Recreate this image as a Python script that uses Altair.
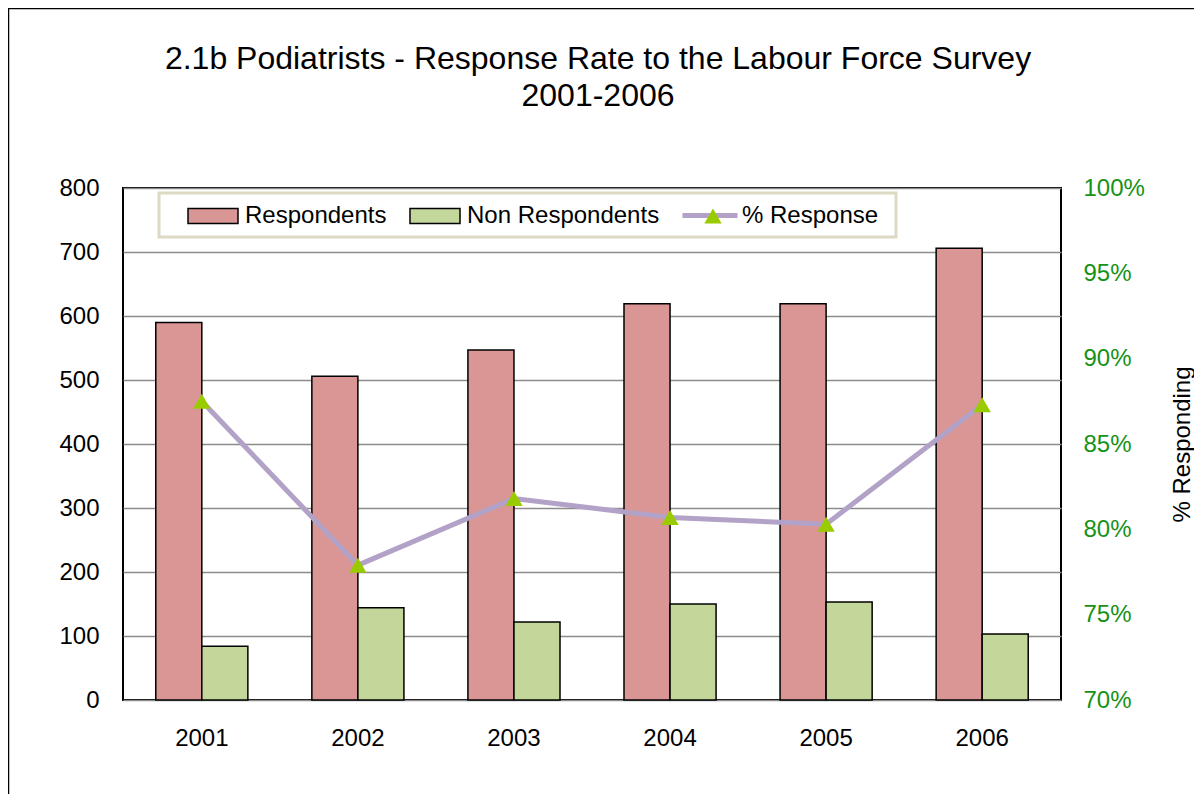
import altair as alt
import pandas as pd

years = ["2001", "2002", "2003", "2004", "2005", "2006"]
respondents = [590, 506, 547, 619, 619, 706]
non_respondents = [84, 144, 122, 150, 153, 103]
pct_response = [0.875, 0.779, 0.818, 0.807, 0.803, 0.873]

series_names = ["Respondents", "Non Respondents"]
bar_colors = ["#d99694", "#c4d79b"]
left_ticks = [0, 100, 200, 300, 400, 500, 600, 700, 800]
right_ticks = [0.70, 0.75, 0.80, 0.85, 0.90, 0.95, 1.00]

title_lines = ["2.1b Podiatrists - Response Rate to the Labour Force Survey", "2001-2006"]

FONT = "Liberation Sans"
GREEN = "#169216"
FS = 24

bars_df = pd.DataFrame({
    "year": years * 2,
    "series": [series_names[0]] * len(years) + [series_names[1]] * len(years),
    "value": respondents + non_respondents,
})
line_df = pd.DataFrame({
    "year": years,
    "pct": pct_response,
    "lineKey": ["line"] * len(years),
    "ptKey": ["% Response"] * len(years),
})

x_scale = alt.Scale(domain=years, paddingInner=0.41, paddingOuter=0.21)
x_enc = alt.X("year:N", scale=x_scale, sort=years,
              axis=alt.Axis(title=None, labelAngle=0, labelFontSize=FS, labelColor="black",
                            labelPadding=26, ticks=False, domain=False, grid=False))

bars = alt.Chart(bars_df).mark_bar(stroke="black", strokeWidth=1.5).encode(
    x=x_enc,
    xOffset=alt.XOffset("series:N", sort=series_names,
                        scale=alt.Scale(domain=series_names, paddingInner=0, paddingOuter=0)),
    y=alt.Y("value:Q", scale=alt.Scale(domain=[0, 800], nice=False),
            axis=alt.Axis(title=None, orient="left", values=left_ticks, format="d",
                          labelFontSize=FS, labelColor="black", labelPadding=24,
                          ticks=False, domain=False, grid=True,
                          gridColor="#8c8c8c", gridWidth=1.5)),
    color=alt.Color("series:N", sort=series_names,
                    scale=alt.Scale(domain=series_names, range=bar_colors),
                    legend=alt.Legend(orient="none", legendX=64, legendY=2, direction="horizontal",
                                      title=None, symbolType="M-1,-0.3H1V0.3H-1Z", symbolSize=2500,
                                      symbolStrokeColor="black", symbolStrokeWidth=1.5,
                                      labelFontSize=FS, labelFont=FONT, labelColor="black",
                                      labelOffset=6, labelLimit=400, columnPadding=20, padding=0)),
)

y_right = alt.Y("pct:Q", scale=alt.Scale(domain=[0.70, 1.00], nice=False),
                axis=alt.Axis(orient="right", values=right_ticks, format=".0%",
                              labelFontSize=FS, labelColor=GREEN, labelPadding=22,
                              ticks=False, domain=False, grid=False,
                              title="% Responding", titleAngle=270, titleFontSize=FS,
                              titleFontWeight="normal", titleColor="black", titleFont=FONT,
                              titleX=121, titleY=256, titleAlign="center", titleBaseline="middle"))

line = alt.Chart(line_df).mark_line(strokeWidth=5).encode(
    x=x_enc,
    y=y_right,
    stroke=alt.Stroke("lineKey:N", scale=alt.Scale(domain=["line"], range=["#b3a2c7"]),
                      legend=alt.Legend(orient="none", legendX=557, legendY=-2.5, title=None,
                                        symbolType="stroke", symbolSize=3025, symbolStrokeWidth=5,
                                        labelExpr="''", padding=0, zindex=1)),
)

points = alt.Chart(line_df).mark_point(shape="triangle-up", filled=True, size=300, opacity=1).encode(
    x=x_enc,
    y=y_right,
    fill=alt.Fill("ptKey:N", scale=alt.Scale(domain=["% Response"], range=["#99cc00"]),
                  legend=alt.Legend(orient="none", legendX=578, legendY=16, title=None,
                                    symbolType="triangle-up", symbolSize=300, symbolStrokeWidth=0,
                                    labelFontSize=FS, labelFont=FONT, labelColor="black",
                                    labelOffset=17, labelLimit=400, padding=0, zindex=2)),
)

one = alt.Data(values=[{}])
frame = alt.Chart(one).mark_rect(fill="transparent", stroke="black", strokeWidth=1.5).encode(
    x=alt.value(-114.5), x2=alt.value(3000), y=alt.value(-179.5), y2=alt.value(3000))
legend_box = alt.Chart(one).mark_rect(fill="white", stroke="#ddd9c3", strokeWidth=3).encode(
    x=alt.value(36), x2=alt.value(773), y=alt.value(5), y2=alt.value(49))

chart = alt.layer(frame, legend_box, bars, alt.layer(line, points)).resolve_scale(
    y="independent"
).properties(
    width=938, height=512,
    padding={"left": 115, "top": 180, "right": 133, "bottom": 94},
    autosize=alt.AutoSizeParams(type="none"),
    title=alt.TitleParams(text=title_lines, fontSize=32, font=FONT, fontWeight="normal",
                          lineHeight=37, offset=-105, anchor="middle", dx=6, color="black"),
).configure_view(
    stroke="black", strokeWidth=2
).configure_axis(
    labelFont=FONT, titleFont=FONT
).configure_legend(
    labelFont=FONT
)

chart.save("out.html", embed_options={"renderer": "svg", "actions": False})
